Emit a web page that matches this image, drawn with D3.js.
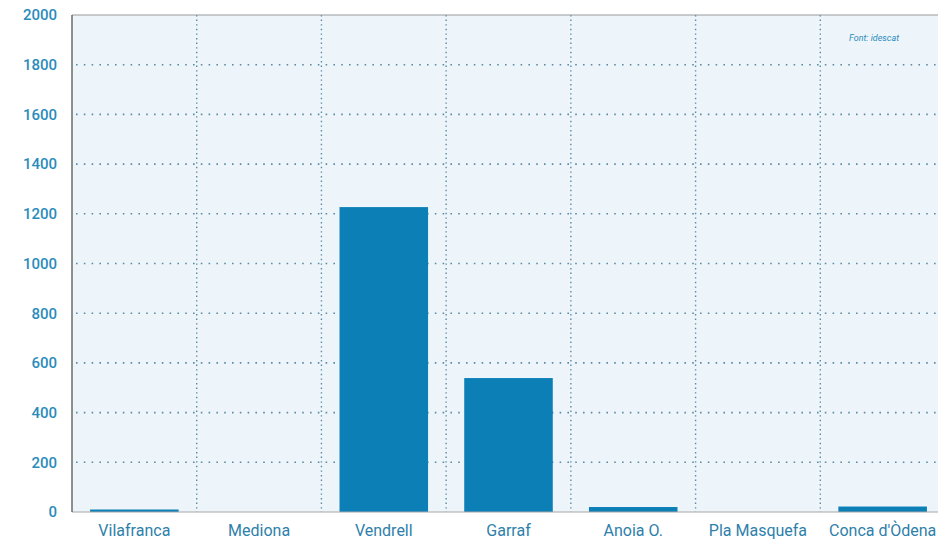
<!DOCTYPE html>
<html><head><meta charset="utf-8">
<script src="https://cdn.jsdelivr.net/npm/d3@7"></script>
<style>body{margin:0;background:#fff;}svg{display:block;}</style>
</head><body>
<svg id="c" width="938" height="540"></svg>
<script>
const categories = ["Vilafranca","Mediona","Vendrell","Garraf","Anoia O.","Pla Masquefa","Conca d'Òdena"];
const values = [10, 0, 1227, 539, 20, 0, 22];
const yTicks = [0,200,400,600,800,1000,1200,1400,1600,1800,2000];

const svg = d3.select("#c");
const m = {l:72, t:15, r:-7, b:28};
const W = 938, H = 540;
const x = d3.scaleBand().domain(categories).range([m.l, W - m.r]).paddingInner(0.29).paddingOuter(0.145);
const xb = d3.scaleBand().domain(categories).range([m.l, W - m.r]);
const y = d3.scaleLinear().domain([0,2000]).range([H - m.b, m.t]);

svg.append("rect").attr("x", m.l).attr("y", m.t).attr("width", W - m.l).attr("height", y(0)-m.t).attr("fill","#eef5fa");

// horizontal grid
svg.append("g").selectAll("line").data(yTicks.filter(d=>d>0 && d<2000)).join("line")
  .attr("x1", m.l+4).attr("x2", W).attr("y1", d=>y(d)).attr("y2", d=>y(d))
  .attr("stroke","#5a8aa6").attr("stroke-width",1.6).attr("stroke-dasharray","1.6,6.2");
// vertical grid
svg.append("g").selectAll("line").data(categories.slice(1)).join("line")
  .attr("x1", d=>xb(d)).attr("x2", d=>xb(d)).attr("y1", m.t).attr("y2", y(0))
  .attr("stroke","#5a8aa6").attr("stroke-width",1.4).attr("stroke-dasharray","1.4,3.2");

// bars
svg.append("g").selectAll("rect").data(categories).join("rect")
  .attr("x", d=>x(d)).attr("width", x.bandwidth())
  .attr("y", (d,i)=>y(values[i])).attr("height", (d,i)=>y(0)-y(values[i]))
  .attr("fill","#0b7fb6");

// frame
svg.append("line").attr("x1",m.l).attr("x2",W).attr("y1",m.t).attr("y2",m.t).attr("stroke","#9a9a9a").attr("stroke-width",1.2);
svg.append("line").attr("x1",m.l).attr("x2",W).attr("y1",y(0)).attr("y2",y(0)).attr("stroke","#a8a8a8").attr("stroke-width",1.2);
svg.append("line").attr("x1",m.l).attr("x2",m.l).attr("y1",m.t).attr("y2",y(0)).attr("stroke","#555").attr("stroke-width",1.3);

// y axis labels
const ya = svg.append("g").attr("transform",`translate(${m.l},0)`).call(d3.axisLeft(y).tickValues(yTicks).tickSize(0).tickPadding(15).tickFormat(d3.format("d")));
ya.select(".domain").remove();
ya.selectAll("text").attr("fill","#2a8cba").style("font-family","Roboto, 'Open Sans', sans-serif").style("font-size","15px").style("font-weight","500");

// x axis labels
const xa = svg.append("g").attr("transform",`translate(0,${y(0)})`).call(d3.axisBottom(xb).tickSize(0).tickPadding(13));
xa.select(".domain").remove();
xa.selectAll("text").attr("fill","#2e80aa").style("font-family","Roboto, 'Open Sans', sans-serif").style("font-size","16px");

svg.append("text").attr("x",874).attr("y",41).attr("text-anchor","middle")
  .attr("fill","#2a8cba").style("font-family","Roboto, sans-serif").style("font-size","9px").style("font-style","italic")
  .text("Font: idescat");
</script>
</body></html>
